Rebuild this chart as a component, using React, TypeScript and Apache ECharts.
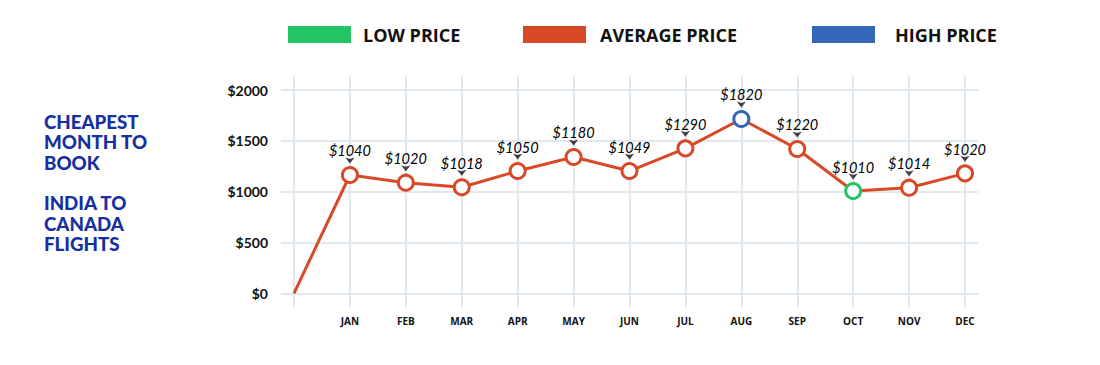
import React, { useEffect, useRef } from "react";
import * as echarts from "echarts";

const months = ["JAN", "FEB", "MAR", "APR", "MAY", "JUN", "JUL", "AUG", "SEP", "OCT", "NOV", "DEC"];
const categories = ["", ...months];
// plotted positions
const startValue = 0;
const monthValues = [1164, 1088, 1043, 1203, 1341, 1203, 1426, 1715, 1420, 1006, 1039, 1180];
// printed price labels
const priceLabels = [1040, 1020, 1018, 1050, 1180, 1049, 1290, 1820, 1220, 1010, 1014, 1020];
const yTicks = [0, 500, 1000, 1500, 2000];
const legendNames = ["LOW PRICE", "AVERAGE PRICE", "HIGH PRICE"];
const titleLines = ["CHEAPEST", "MONTH TO", "BOOK", "", "INDIA TO", "CANADA", "FLIGHTS"];

const GREEN = "#22c463";
const ORANGE = "#d84a27";
const BLUE = "#3467b8";
const GRID = "#e1e8ef";

export default function App() {
  const ref = useRef<HTMLDivElement>(null);
  useEffect(() => {
    document.body.style.margin = "0";
    if (!ref.current) return;
    const chart = echarts.init(ref.current, null, { renderer: "svg" });
    const minLabel = Math.min(...priceLabels);
    const maxLabel = Math.max(...priceLabels);
    const colorFor = (i: number) =>
      priceLabels[i] === minLabel ? GREEN : priceLabels[i] === maxLabel ? BLUE : ORANGE;

    const lineData = [
      { value: startValue, symbol: "none", label: { show: false } },
      ...monthValues.map((v, i) => ({
        value: v,
        itemStyle: { borderColor: colorFor(i), color: "#fff" },
      })),
    ];
    const arrowData = ["-", ...monthValues];

    const legendColors = [GREEN, ORANGE, BLUE];
    const legendRectX = [288, 523, 812];
    const legendTextX = [363, 600, 895];
    const graphic: any[] = [];
    legendNames.forEach((n, i) => {
      graphic.push({
        type: "rect",
        shape: { x: legendRectX[i], y: 26, width: 63, height: 17 },
        style: { fill: legendColors[i] },
      });
      graphic.push({
        type: "text",
        x: legendTextX[i],
        y: 35,
        style: {
          text: n,
          fill: "#111",
          font: "bold 18px 'Open Sans'",
          verticalAlign: "middle",
          align: "left",
        },
      });
    });
    titleLines.forEach((t, i) => {
      if (!t) return;
      graphic.push({
        type: "text",
        x: 44,
        y: 122 + i * 20.3,
        scaleX: 1.1,
        scaleY: 1.1,
        style: {
          text: t,
          fill: "#1530a0",
          font: "900 17px Lato",
          verticalAlign: "middle",
          align: "left",
        },
      });
    });

    const option: any = {
      animation: false,
      graphic,
      grid: [
        { left: 281, top: 90, width: 697, height: 203.3 },
        { left: 294, top: 75.7, width: 671, height: 231.6 },
      ],
      xAxis: [
        { gridIndex: 0, type: "value", show: false, min: 0, max: 1 },
        {
          gridIndex: 1,
          type: "category",
          data: categories,
          boundaryGap: false,
          axisLine: { show: false },
          axisTick: { show: false },
          axisLabel: {
            margin: 9,
            fontFamily: "Open Sans",
            fontWeight: "bold",
            fontSize: 10,
            color: "#111",
          },
          splitLine: { show: true, lineStyle: { color: GRID, width: 2 } },
        },
      ],
      yAxis: [
        {
          gridIndex: 0,
          type: "value",
          min: yTicks[0],
          max: yTicks[yTicks.length - 1],
          interval: yTicks[1] - yTicks[0],
          axisLine: { show: false },
          axisTick: { show: false },
          axisLabel: {
            margin: 13,
            formatter: (v: number) => "$" + String(v),
            fontFamily: "Lato",
            fontWeight: "bold",
            fontSize: 14,
            color: "#111",
          },
          splitLine: { show: true, lineStyle: { color: GRID, width: 2 } },
        },
        {
          gridIndex: 1,
          type: "value",
          min: -138,
          max: 2141,
          show: false,
          splitLine: { show: false },
        },
      ],
      series: [
        {
          type: "line",
          xAxisIndex: 1,
          yAxisIndex: 1,
          data: lineData,
          symbol: "circle",
          symbolSize: 15,
          showAllSymbol: true,
          lineStyle: { color: ORANGE, width: 3 },
          itemStyle: { color: "#fff", borderColor: ORANGE, borderWidth: 3 },
          label: {
            show: true,
            position: "top",
            distance: 8,
            formatter: (p: any) => (p.dataIndex > 0 ? "$" + priceLabels[p.dataIndex - 1] : ""),
            fontFamily: "Lato",
            fontStyle: "italic",
            fontSize: 14.5,
            lineHeight: 14,
            color: "#000",
          },
          z: 3,
        },
        {
          type: "scatter",
          xAxisIndex: 1,
          yAxisIndex: 1,
          data: arrowData,
          symbol: "arrow",
          symbolRotate: 180,
          symbolSize: [7, 6],
          symbolOffset: [0, -11.5],
          itemStyle: { color: "#111" },
          silent: true,
          z: 4,
        },
      ],
    };
    chart.setOption(option);
    return () => chart.dispose();
  }, []);
  return <div ref={ref} style={{ width: 1100, height: 365 }} />;
}
